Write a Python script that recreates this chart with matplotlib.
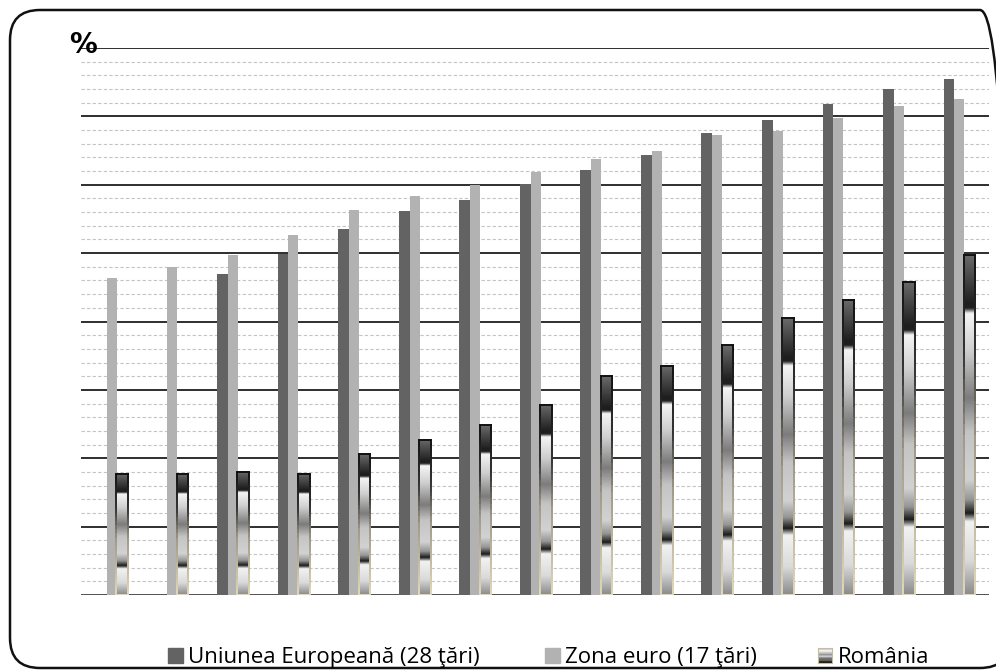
import numpy as np
import matplotlib
matplotlib.use("Agg")
import matplotlib.pyplot as plt
from matplotlib.patches import Rectangle, FancyBboxPatch
from matplotlib.colors import LinearSegmentedColormap
from matplotlib.collections import LineCollection
from matplotlib.transforms import IdentityTransform

# values (no y labels in the original, scale 0-80)
groups = list(range(15))
eu28 = [None, None, 46.9, 49.9, 53.5, 56.1, 57.8, 60.1, 62.2, 64.3,
        67.5, 69.4, 71.8, 74.0, 75.5]
euro17 = [46.3, 47.9, 49.7, 52.6, 56.3, 58.4, 59.9, 61.9, 63.8, 64.9,
          67.3, 67.9, 69.8, 71.5, 72.5]
romania = [17.7, 17.7, 18.0, 17.7, 20.6, 22.7, 24.8, 27.8, 32.0, 33.5,
           36.5, 40.5, 43.2, 45.8, 49.7]
labels = ["Uniunea Europeană (28 ţări)", "Zona euro (17 ţări)", "România"]

c_eu = "#636363"
c_euro = "#b2b2b2"

# metallic gradient used for the Romania bars (top -> bottom)
grad = LinearSegmentedColormap.from_list("metal", [
    (0.00, "#6a6a6a"), (0.14, "#1e1e1e"), (0.155, "#202020"),
    (0.17, "#f5f5f5"), (0.28, "#cfcfcf"), (0.42, "#7c7c7c"),
    (0.52, "#c4c4c4"), (0.66, "#d2d2d2"), (0.72, "#959595"),
    (0.76, "#1a1a1a"), (0.785, "#f2f2f2"), (0.90, "#dadada"),
    (1.00, "#8a8a8a")])
edge = LinearSegmentedColormap.from_list("edge", [
    (0.0, "#111111"), (0.3, "#333333"), (0.55, "#a09a88"), (1.0, "#e2d8b8")])
gimg = np.linspace(0, 1, 256).reshape(-1, 1)

W, H = 996, 671
fig = plt.figure(figsize=(W / 100, H / 100), dpi=100)
ax = fig.add_axes([81 / W, 1 - 595 / H, (989 - 81) / W, (595 - 48) / H])

x = np.array(groups)
ax.set_xlim(-0.5, 14.5)
ax.set_ylim(0, 80)

# grid: solid major lines, dashed minor lines
for v in np.arange(2, 80, 2):
    if v % 10:
        ax.axhline(v, color="#c4c4c4", lw=0.8, ls=(0, (3, 2)), zorder=0)
for v in np.arange(0, 81, 10):
    ax.axhline(v, color="#1e1e1e" if v else "#444444", lw=1.3, zorder=0.5)

eu_idx = [i for i, v in enumerate(eu28) if v is not None]
ax.bar(x[eu_idx] - 0.16, [eu28[i] for i in eu_idx], width=0.18,
       color=c_eu, zorder=2)
ax.bar(x + 0.01, euro17, width=0.165, color=c_euro, zorder=2)

rbars = ax.bar(x + 0.18, romania, width=0.19, color="none", zorder=3)
nseg = 30
for b in rbars:
    x0, w, h = b.get_x(), b.get_width(), b.get_height()
    ax.imshow(gimg, cmap=grad, aspect="auto", extent=(x0, x0 + w, 0, h),
              zorder=3, interpolation="bilinear")
    # outline fading from black at the top to beige at the bottom
    ys = np.linspace(h, 0, nseg + 1)
    segs, cols = [], []
    for k in range(nseg):
        t = (k + 0.5) / nseg
        for xe in (x0, x0 + w):
            segs.append([(xe, ys[k]), (xe, ys[k + 1])])
            cols.append(edge(t))
    segs.append([(x0, h), (x0 + w, h)])
    cols.append(edge(0.0))
    segs.append([(x0, 0), (x0 + w, 0)])
    cols.append(edge(1.0))
    ax.add_collection(LineCollection(segs, colors=cols, lw=1.4, zorder=4,
                                     capstyle="projecting"))

ax.set_xlim(-0.5, 14.5)
ax.set_ylim(0, 80)
ax.set_xticks([])
ax.set_yticks([])
for s in ax.spines.values():
    s.set_visible(False)

fig.text(69 / W, 1 - 53 / H, "%", fontsize=20, fontweight="bold",
         family="DejaVu Sans", va="baseline", ha="left")

# legend, laid out by hand like the original
font = ["Open Sans", "DejaVu Sans"]
fs = 16
sq = 15
for (px, col), lab in zip([(168, c_eu), (545, c_euro)], labels[:2]):
    fig.add_artist(Rectangle((px / W, 1 - 663 / H), sq / W, sq / H,
                             color=col, transform=fig.transFigure))
    fig.text((px + 20) / W, 1 - 663 / H, lab, fontsize=fs, family=font,
             va="baseline", ha="left")
iax = fig.add_axes([818 / W, 1 - 663 / H, 14 / W, sq / H])
iax.imshow(np.array([[0.2], [0.05], [0.2], [0.4], [0.2], [0.55], [0.6], [0.9]]),
           cmap="gray_r", aspect="auto", vmin=0, vmax=1)
iax.set_xticks([])
iax.set_yticks([])
for s in iax.spines.values():
    s.set_color("#c8bd98")
fig.text(838 / W, 1 - 663 / H, labels[2], fontsize=fs, family=font,
         va="baseline", ha="left")

# rounded frame around the whole picture
frame = FancyBboxPatch((10, H - 668), 1000, 658,
                       boxstyle="round,pad=0,rounding_size=30",
                       transform=IdentityTransform(), fill=False,
                       ec="#111111", lw=1.8)
fig.patches.append(frame)

fig.savefig("out.png", dpi=100)
